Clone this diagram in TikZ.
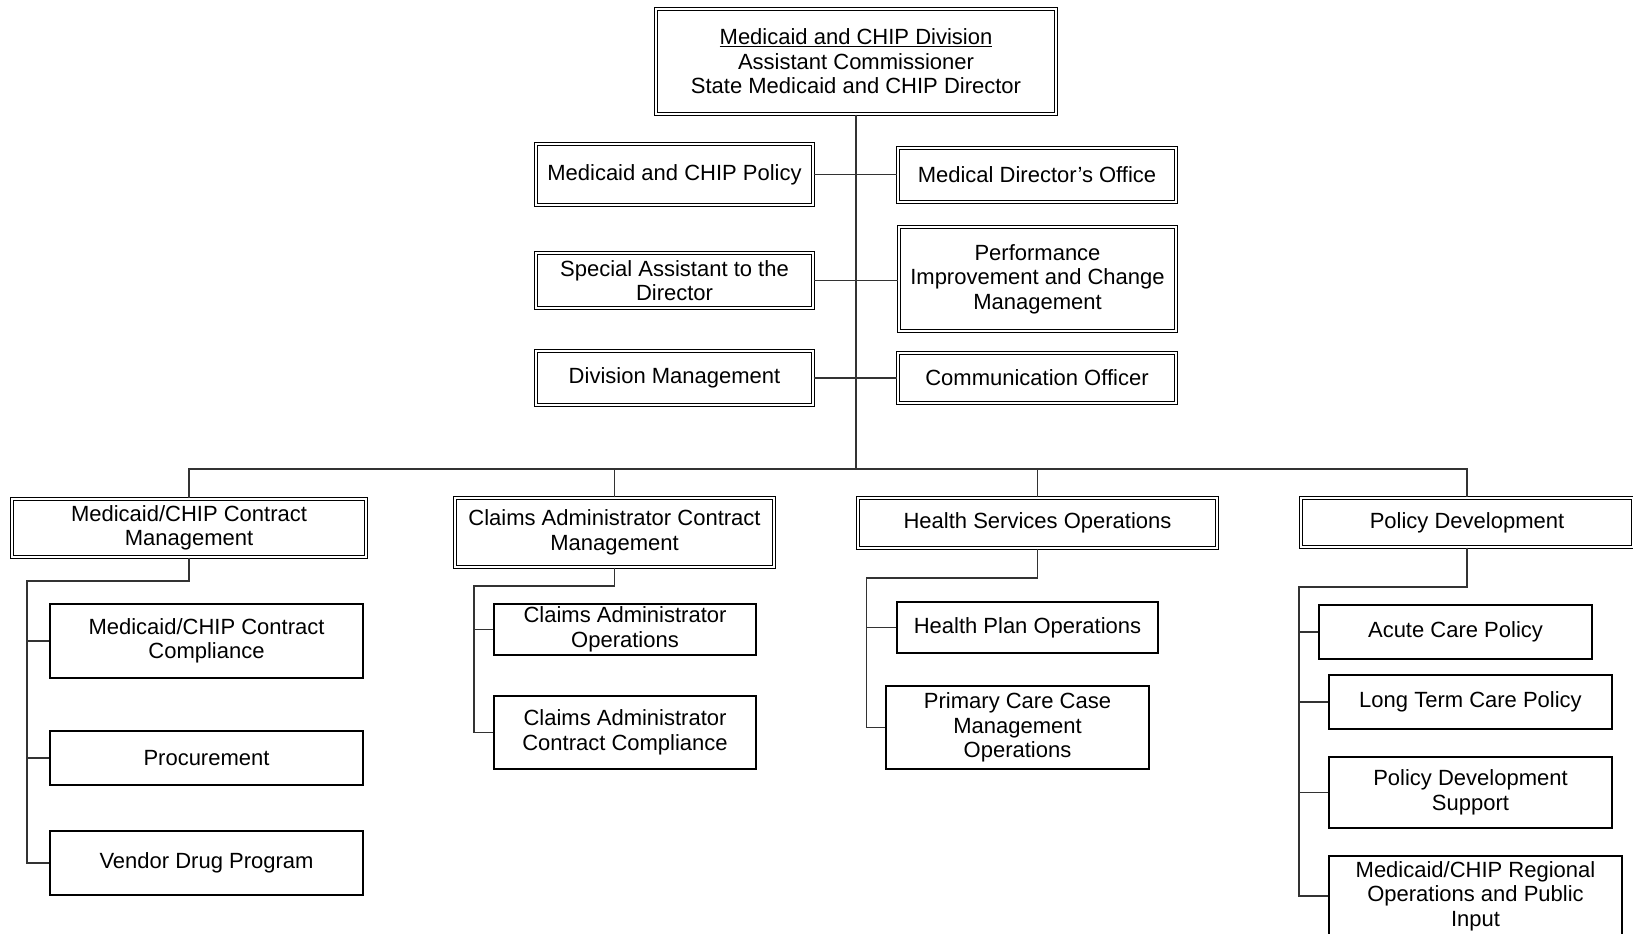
\documentclass[tikz,border=0pt]{standalone}
\usepackage{fontspec}
\setmainfont{Liberation Sans}
\begin{document}
\begin{tikzpicture}[x=1pt,y=-1pt,
  every node/.style={font=\fontsize{22}{24.5}\selectfont, align=center, inner sep=0pt},
  dbox/.style={draw=black, double=white, line width=1.1pt, double distance=2pt, fill=white},
  sbox/.style={draw=black, line width=1.3pt, fill=white},
  conn/.style={draw=black!80, line width=1.1pt}]
\useasboundingbox (0,0) rectangle (1633,934);
% top
\node[dbox, minimum width=400, minimum height=105] (top) at (856,61.5)
  {\underline{Medicaid and CHIP Division}\\Assistant Commissioner\\State Medicaid and CHIP Director};
% staff
\node[dbox, minimum width=277, minimum height=61] (L1) at (674.5,174.5) {Medicaid and CHIP Policy};
\node[dbox, minimum width=278, minimum height=54] (R1) at (1037,175) {Medical Director's Office};
\node[dbox, minimum width=277, minimum height=55] (L2) at (674.5,280.5) {Special Assistant to the\\Director};
\node[dbox, minimum width=277, minimum height=104] (R2) at (1037.5,279) {Performance\\Improvement and Change\\Management};
\node[dbox, minimum width=277, minimum height=54] (L3) at (674.5,378) {Division Management};
\node[dbox, minimum width=278, minimum height=50] (R3) at (1037,378) {Communication Officer};
% level 2
\node[dbox, minimum width=354, minimum height=58] (A) at (189,528) {Medicaid/CHIP Contract\\Management};
\node[dbox, minimum width=319, minimum height=69] (B) at (614.5,532.5) {Claims Administrator Contract\\Management};
\node[dbox, minimum width=359, minimum height=50] (C) at (1037.5,523) {Health Services Operations};
\node[dbox, minimum width=332, minimum height=49] (D) at (1467,522.5) {Policy Development};
% level 3
\node[sbox, minimum width=313, minimum height=74] (A1) at (206.5,641) {Medicaid/CHIP Contract\\Compliance};
\node[sbox, minimum width=313, minimum height=54] (A2) at (206.5,758) {Procurement};
\node[sbox, minimum width=313, minimum height=64] (A3) at (206.5,863) {Vendor Drug Program};
\node[sbox, minimum width=262, minimum height=51] (B1) at (625,629.5) {Claims Administrator\\Operations};
\node[sbox, minimum width=262, minimum height=73] (B2) at (625,732.5) {Claims Administrator\\Contract Compliance};
\node[sbox, minimum width=261, minimum height=51] (C1) at (1027.5,627.5) {Health Plan Operations};
\node[sbox, minimum width=263, minimum height=83] (C2) at (1017.5,727.5) {Primary Care Case\\Management\\Operations};
\node[sbox, minimum width=273, minimum height=54] (D1) at (1455.5,632) {Acute Care Policy};
\node[sbox, minimum width=283, minimum height=54] (D2) at (1470.5,702) {Long Term Care Policy};
\node[sbox, minimum width=283, minimum height=71] (D3) at (1470.5,792.5) {Policy Development\\Support};
\node[sbox, minimum width=293, minimum height=80] (D4) at (1475.5,896) {Medicaid/CHIP Regional\\Operations and Public\\Input};
% connectors
\coordinate (bus) at (856,469);
\draw[conn] (top.south) -- (bus);
\draw[conn] (L1.east) -- (L1.east -| R1.west);
\draw[conn] (L2.east) -- (L2.east -| R2.west);
\draw[conn] (L3.east) -- (L3.east -| R3.west);
\draw[conn] (A.north) |- (bus) -| (D.north);
\draw[conn] (B.north) -- (B.north |- bus);
\draw[conn] (C.north) -- (C.north |- bus);
\coordinate (a0) at (27,581);
\draw[conn] (A.south) |- (a0) |- (A3.west);
\draw[conn] (A1.west) -- (A1.west -| a0);
\draw[conn] (A2.west) -- (A2.west -| a0);
\coordinate (b0) at (474,586);
\draw[conn] (B.south) |- (b0) |- (B2.west);
\draw[conn] (B1.west) -- (B1.west -| b0);
\coordinate (c0) at (866.5,578);
\draw[conn] (C.south) |- (c0) |- (C2.west);
\draw[conn] (C1.west) -- (C1.west -| c0);
\coordinate (d0) at (1299,587);
\draw[conn] (D.south) |- (d0) |- (D4.west);
\draw[conn] (D1.west) -- (D1.west -| d0);
\draw[conn] (D2.west) -- (D2.west -| d0);
\draw[conn] (D3.west) -- (D3.west -| d0);
\end{tikzpicture}
\end{document}
